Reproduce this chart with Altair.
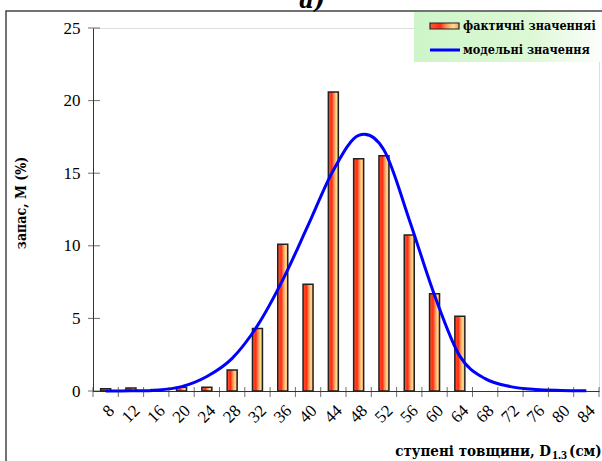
import altair as alt
import pandas as pd

# ---- data ----
cats = [8, 12, 16, 20, 24, 28, 32, 36, 40, 44, 48, 52, 56, 60, 64, 68, 72, 76, 80, 84]
actual = [0.15, 0.2, 0.1, 0.25, 0.25, 1.45, 4.3, 10.1, 7.35, 20.6, 16.0, 16.2, 10.75, 6.7, 5.15]
model = [0.0, 0.01, 0.05, 0.3, 1.0, 2.25, 4.5, 7.65, 11.4, 15.2, 17.6, 16.6, 11.8, 6.6, 2.4,
         0.85, 0.3, 0.1, 0.04, 0.02]
y_ticks = [0, 5, 10, 15, 20, 25]
legend_labels = ["фактичні значенняі", "модельні значення"]
y_title = "запас, М  (%)"
x_title_main = "ступені товщини, D"
x_title_sub = "1.3"
x_title_tail = "(см)"
panel_label = "а)"

bar_df = pd.DataFrame({"d": cats[:len(actual)], "v": actual})
line_df = pd.DataFrame({"d": cats, "v": model})
ytick_df = pd.DataFrame({"v": y_ticks})
xtick_df = pd.DataFrame({"d": cats})
xtick_end_df = pd.DataFrame({"d": cats[-1:]})
one = alt.Data(values=[{"k": 1}])

FONT = "Liberation Serif"
CYR = "DejaVu Serif Condensed, DejaVu Serif, Liberation Serif, serif"
AX = "#333333"

xscale = alt.Scale(domain=cats, paddingInner=0, paddingOuter=0)
yscale = alt.Scale(domain=[0, 25], nice=False)

bar_fill = alt.Gradient(
    gradient="linear", x1=0, x2=1, y1=0, y2=0,
    stops=[
        alt.GradientStop(color="#FF5A30", offset=0),
        alt.GradientStop(color="#FF2A12", offset=0.35),
        alt.GradientStop(color="#FF8A55", offset=0.55),
        alt.GradientStop(color="#FFE08A", offset=0.8),
        alt.GradientStop(color="#FF9A5A", offset=1),
    ],
)
legend_bg = alt.Gradient(
    gradient="linear", x1=0, x2=1, y1=0, y2=0,
    stops=[
        alt.GradientStop(color="#CDF5C8", offset=0),
        alt.GradientStop(color="#DDF8D6", offset=0.6),
        alt.GradientStop(color="#FFFFFF", offset=1),
    ],
)

# frame around the whole figure
frame = alt.Chart(one).mark_rect(fillOpacity=0, stroke="#444444", strokeWidth=1.5).encode(
    x=alt.value(-87), x2=alt.value(700), y=alt.value(-17), y2=alt.value(600)
)

bars = alt.Chart(bar_df).mark_bar(size=10, fill=bar_fill, stroke="#222222", strokeWidth=1.5).encode(
    x=alt.X("d:O", scale=xscale, sort=None, title=None,
            axis=alt.Axis(title=None, labelAngle=-45, labelFont=FONT, labelFontSize=17,
                          labelColor="black", ticks=False, labelPadding=11,
                          domainColor=AX, tickBand="extent")),
    y=alt.Y("v:Q", scale=yscale, title=None,
            axis=alt.Axis(values=y_ticks, title=None,
                          labelFont=FONT, labelFontSize=17, labelColor="black",
                          ticks=False, labelPadding=13, domainColor=AX, grid=False)),
)

line = alt.Chart(line_df).mark_line(color="#0000FF", strokeWidth=3, interpolate="cardinal").encode(
    x=alt.X("d:O", scale=xscale, sort=None, title=None),
    y=alt.Y("v:Q", scale=yscale, title=None),
)

ytk = alt.Chart(ytick_df).mark_tick(orient="horizontal", size=12, thickness=1, color=AX).encode(
    y=alt.Y("v:Q", scale=yscale, title=None), x=alt.value(1)
)
xtk = alt.Chart(xtick_df).mark_tick(orient="vertical", size=10, thickness=1, color=AX).encode(
    x=alt.X("d:O", scale=xscale, sort=None, bandPosition=0, title=None), y=alt.value(364)
)
xtk_end = alt.Chart(xtick_end_df).mark_tick(orient="vertical", size=10, thickness=1, color=AX).encode(
    x=alt.X("d:O", scale=xscale, sort=None, bandPosition=1, title=None), y=alt.value(364)
)

# y title
yt = alt.Chart(one).mark_text(align="center", baseline="middle", angle=270, font=CYR, fontSize=14,
                              fontWeight="bold", color="black").encode(
    x=alt.value(-71), y=alt.value(175), text=alt.value(y_title)
)

# legend
leg_bg = alt.Chart(one).mark_rect(fill=legend_bg).encode(
    x=alt.value(321), x2=alt.value(515), y=alt.value(-16), y2=alt.value(34)
)
leg_bar = alt.Chart(one).mark_rect(fill=bar_fill, stroke="#222222", strokeWidth=1.2).encode(
    x=alt.value(337), x2=alt.value(366), y=alt.value(-5), y2=alt.value(1)
)
leg_line = alt.Chart(one).mark_rule(color="#0000FF", strokeWidth=3).encode(
    x=alt.value(337), x2=alt.value(367), y=alt.value(22)
)
leg_t1 = alt.Chart(one).mark_text(align="left", baseline="alphabetic", font=CYR, fontSize=12.5,
                                  fontWeight="bold", color="black").encode(
    x=alt.value(370), y=alt.value(2), text=alt.value(legend_labels[0])
)
leg_t2 = alt.Chart(one).mark_text(align="left", baseline="alphabetic", font=CYR, fontSize=12.5,
                                  fontWeight="bold", color="black").encode(
    x=alt.value(370), y=alt.value(26), text=alt.value(legend_labels[1])
)

# x title with subscript
xt1 = alt.Chart(one).mark_text(align="right", baseline="alphabetic", font=CYR, fontSize=15,
                               fontWeight="bold", color="black").encode(
    x=alt.value(458), y=alt.value(428), text=alt.value(x_title_main)
)
xt2 = alt.Chart(one).mark_text(align="left", baseline="alphabetic", font=FONT, fontSize=12,
                               fontWeight="bold", color="black").encode(
    x=alt.value(459), y=alt.value(431), text=alt.value(x_title_sub)
)
xt3 = alt.Chart(one).mark_text(align="left", baseline="alphabetic", font=CYR, fontSize=15,
                               fontWeight="bold", color="black").encode(
    x=alt.value(476), y=alt.value(428), text=alt.value(x_title_tail)
)

panel = alt.Chart(one).mark_text(align="center", baseline="alphabetic", font=CYR, fontSize=26,
                                 fontWeight="bold", fontStyle="italic", color="black").encode(
    x=alt.value(219), y=alt.value(-20), text=alt.value(panel_label)
)

chart = alt.layer(
    frame, bars, line, ytk, xtk, xtk_end, yt, leg_bg, leg_bar, leg_line, leg_t1, leg_t2,
    xt1, xt2, xt3, panel
).properties(
    width=506, height=363,
    autosize=alt.AutoSizeParams(type="none"),
    padding={"left": 93, "top": 28, "right": 3, "bottom": 70},
).configure_view(stroke=None).configure(background="white")

chart.save("out.html", embed_options={"renderer": "svg", "actions": False})
